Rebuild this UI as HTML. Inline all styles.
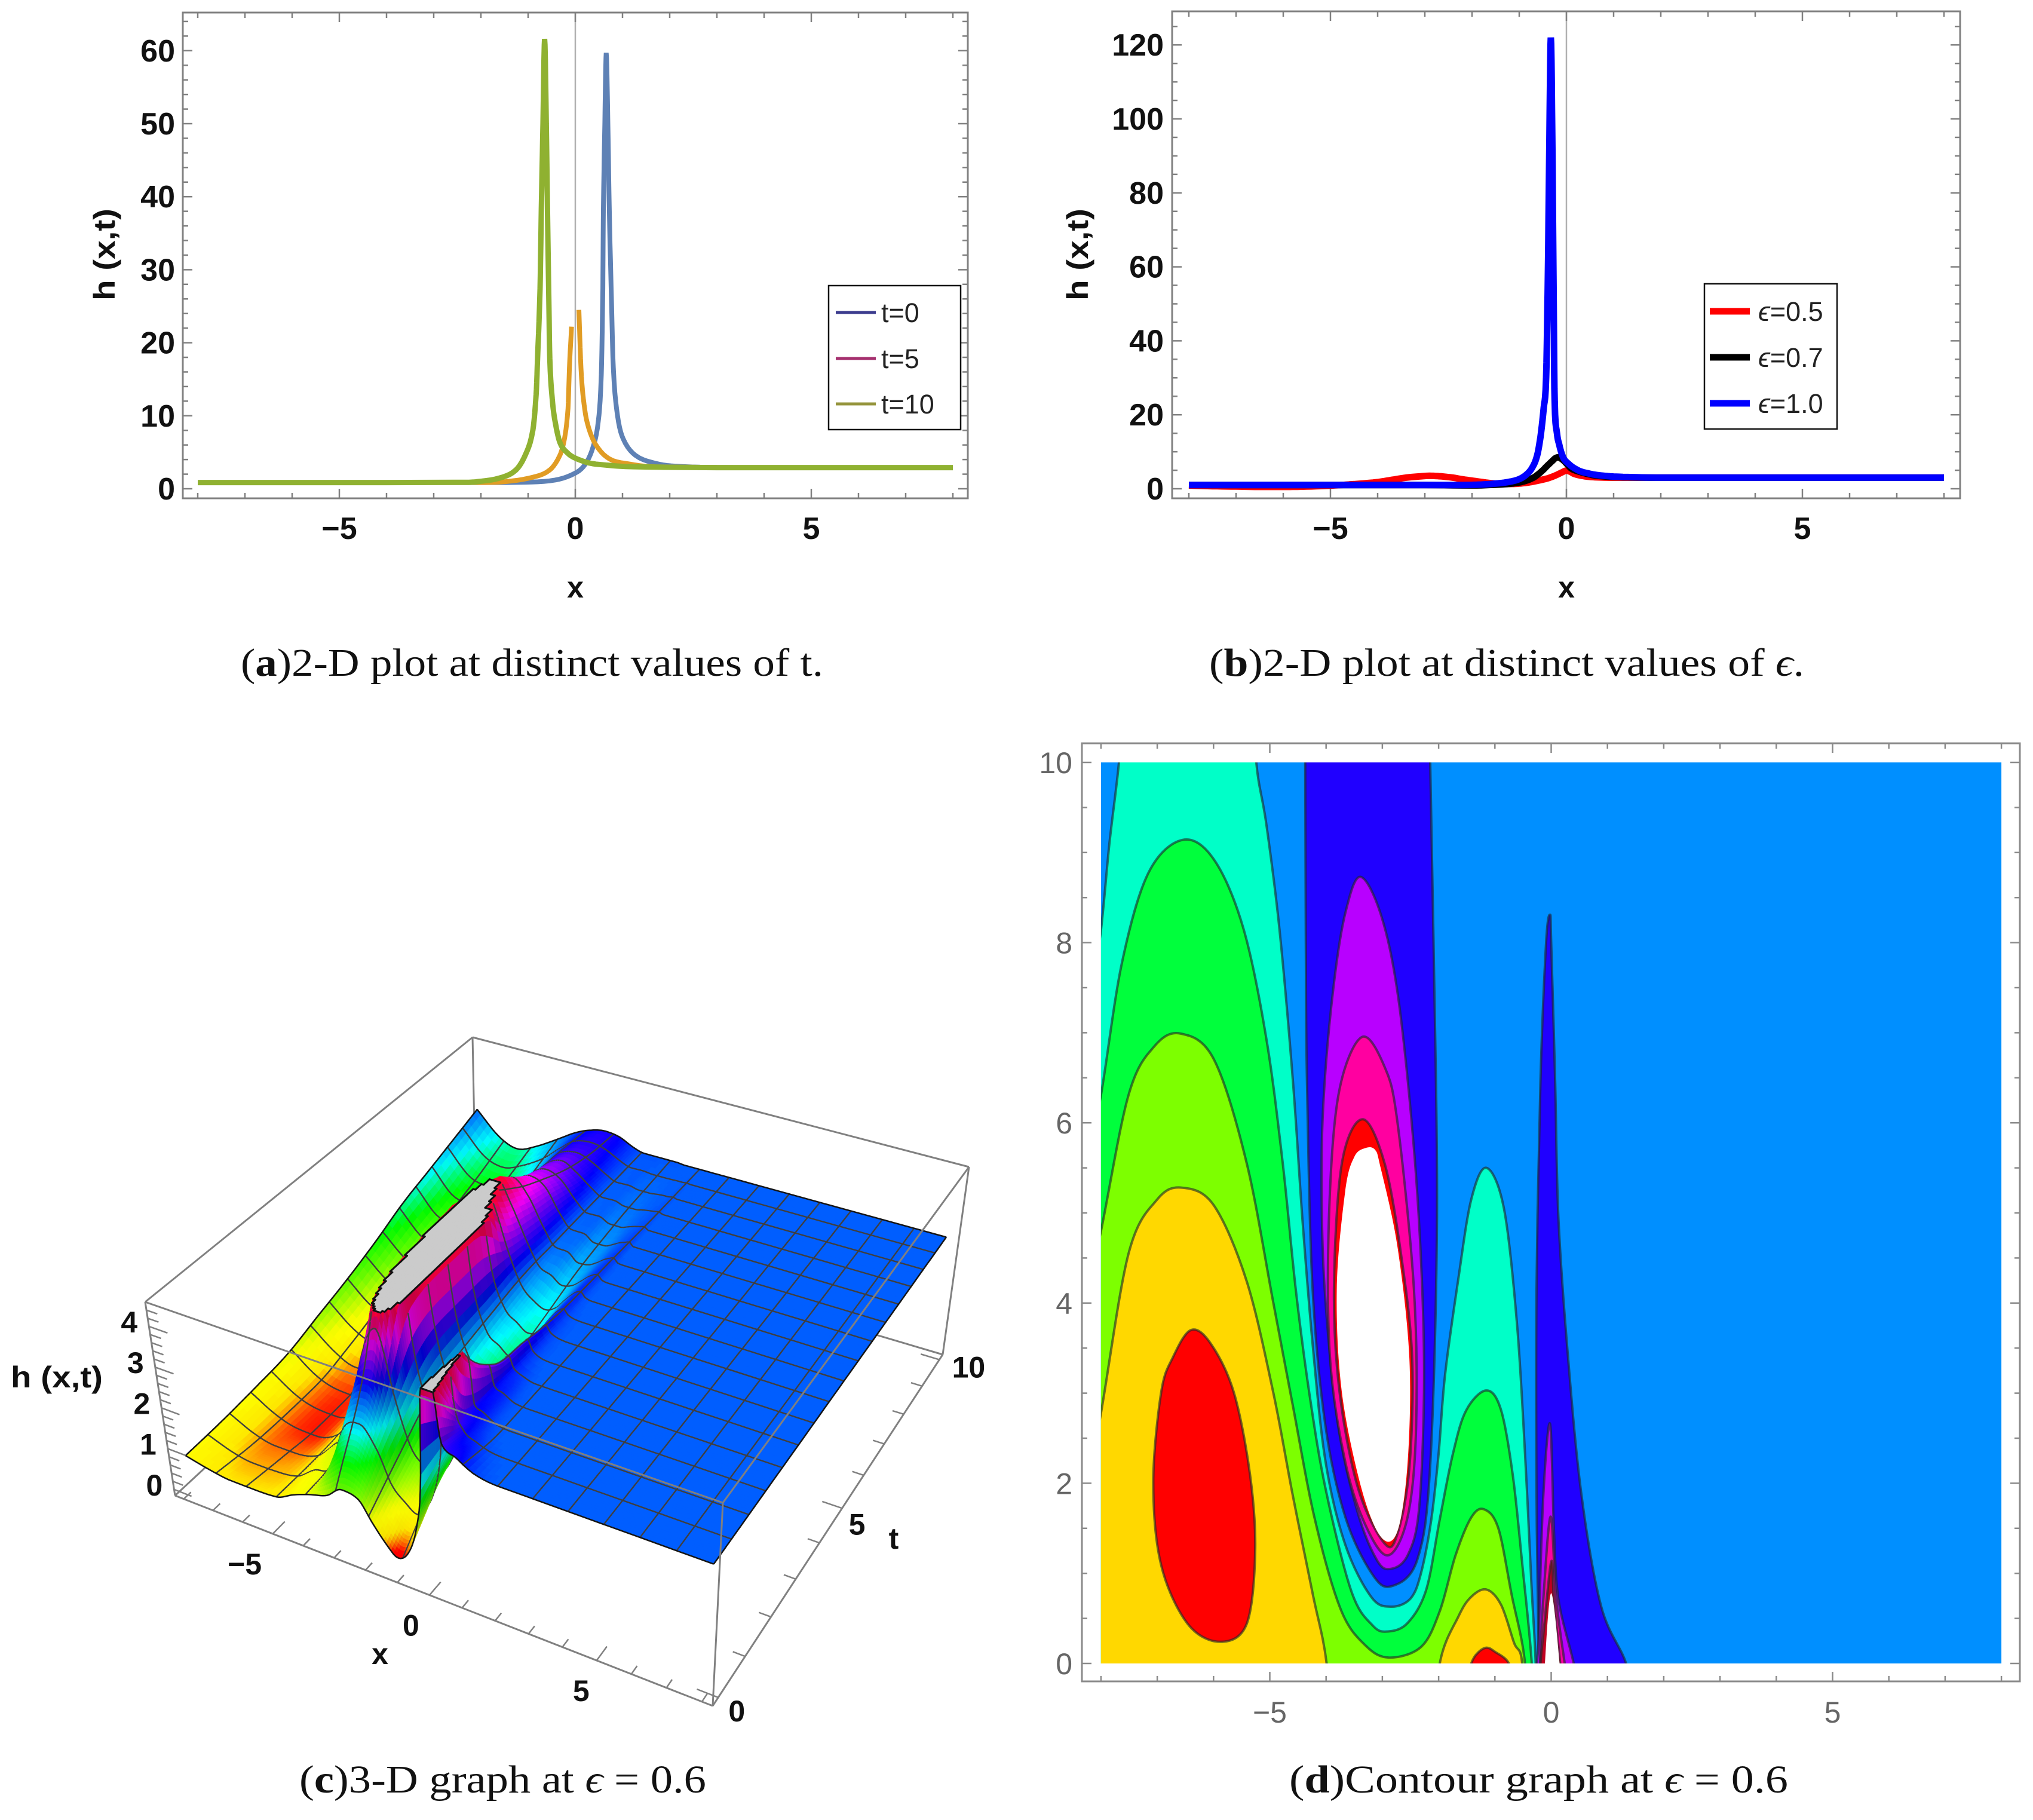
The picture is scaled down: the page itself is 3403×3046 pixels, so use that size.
<!DOCTYPE html>
<html lang="en">
<head>
<meta charset="utf-8">
<title>h(x,t) plots</title>
<style>
html,body{margin:0;padding:0;background:#fff;}
svg{display:block;}
text{font-family:"Liberation Sans","DejaVu Sans",sans-serif;}
.cap{font-family:"Liberation Serif","DejaVu Serif",serif;font-size:66px;fill:#111;}
.bold{font-weight:bold;fill:#111;font-size:50px;}
.leg{font-size:45px;fill:#222;}
</style>
</head>
<body>
<svg id="fig" xmlns="http://www.w3.org/2000/svg" width="3403" height="3046" viewBox="0 0 3403 3046">
<rect width="3403" height="3046" fill="#fff"/>
<defs><clipPath id="plotClipD"><rect id="plotClipRect" x="0" y="0" width="1" height="1"/></clipPath></defs>

<g id="panelA"></g>
<g>
<rect x="1387" y="478" width="221" height="241" fill="#fff" stroke="#111" stroke-width="2.5"/>
<line x1="1399" x2="1466" y1="523" y2="523" stroke="#3c3c8e" stroke-width="5"/>
<text class="leg" x="1475" y="539">t=0</text>
<line x1="1399" x2="1466" y1="600" y2="600" stroke="#a5306e" stroke-width="5"/>
<text class="leg" x="1475" y="616">t=5</text>
<line x1="1399" x2="1466" y1="676" y2="676" stroke="#95943c" stroke-width="5"/>
<text class="leg" x="1475" y="692">t=10</text>
</g>
<text class="bold" x="963" y="1000" text-anchor="middle">x</text>
<text class="bold" transform="translate(192,426) rotate(-90)" text-anchor="middle" textLength="154" lengthAdjust="spacingAndGlyphs">h (x,t)</text>
<text class="cap" x="403" y="1131" textLength="975" lengthAdjust="spacingAndGlyphs">(<tspan font-weight="bold">a</tspan>)2-D plot at distinct values of t.</text>

<g id="panelB"></g>
<g>
<rect x="2853" y="475" width="222" height="243" fill="#fff" stroke="#111" stroke-width="2.5"/>
<line x1="2862" x2="2929" y1="521" y2="521" stroke="#ff0000" stroke-width="11"/>
<text class="leg" x="2943" y="537"><tspan font-style="italic">ϵ</tspan>=0.5</text>
<line x1="2862" x2="2929" y1="598" y2="598" stroke="#000" stroke-width="11"/>
<text class="leg" x="2943" y="614"><tspan font-style="italic">ϵ</tspan>=0.7</text>
<line x1="2862" x2="2929" y1="675" y2="675" stroke="#0000ff" stroke-width="11"/>
<text class="leg" x="2943" y="691"><tspan font-style="italic">ϵ</tspan>=1.0</text>
</g>
<text class="bold" x="2622" y="1000" text-anchor="middle">x</text>
<text class="bold" transform="translate(1821,426) rotate(-90)" text-anchor="middle" textLength="154" lengthAdjust="spacingAndGlyphs">h (x,t)</text>
<text class="cap" x="2024" y="1131" textLength="996" lengthAdjust="spacingAndGlyphs">(<tspan font-weight="bold">b</tspan>)2-D plot at distinct values of <tspan font-style="italic">ϵ</tspan>.</text>

<g id="panelC"></g>
<text class="bold" x="636" y="2785" text-anchor="middle">x</text>
<text class="bold" x="1496" y="2592" text-anchor="middle">t</text>
<text class="bold" x="95" y="2322" text-anchor="middle" textLength="154" lengthAdjust="spacingAndGlyphs">h (x,t)</text>
<text class="cap" x="501" y="3000" textLength="681" lengthAdjust="spacingAndGlyphs">(<tspan font-weight="bold">c</tspan>)3-D graph at <tspan font-style="italic">ϵ</tspan> = 0.6</text>

<g id="panelD"></g>
<text class="cap" x="2158" y="3000" textLength="835" lengthAdjust="spacingAndGlyphs">(<tspan font-weight="bold">d</tspan>)Contour graph at <tspan font-style="italic">ϵ</tspan> = 0.6</text>
</svg>

<script>
// ---------- Panel (a) data ----------
const aXTicks = [-5, 0, 5];
const aYTicks = [0, 10, 20, 30, 40, 50, 60];
const t0X = [-8,-4,-1.9,-1.05,-0.42,0,0.215,0.38,0.49,0.55,0.583,0.595,0.625,0.655,0.69,0.72,0.76,0.806,0.89,1.01,1.27,1.69,2.11,3,4,8];
const t0H = [0.85,0.85,0.85,0.9,1.2,2.15,3.4,5.8,9.4,15.6,27.4,38.3,50,59.7,50,38.3,27.4,16.5,10.2,6.9,4.6,3.5,3.1,2.92,2.9,2.9];
const t5LeftX = [-8,-4,-2.06,-1.47,-0.886,-0.544,-0.333,-0.228,-0.155,-0.125,-0.08];
const t5LeftH = [0.85,0.85,0.85,0.98,1.6,2.56,4.5,6.9,11,16.5,22.2];
const t5RightX = [0.076,0.12,0.17,0.25,0.427,0.72,1.14,1.69,3,8];
const t5RightH = [24.5,16.5,12.4,9.1,6.1,4.1,3.4,3,2.92,2.9];
const t10X = [-8,-4,-2.3,-2.06,-1.6,-1.26,-1.05,-0.9,-0.83,-0.8,-0.747,-0.72,-0.685,-0.65,-0.615,-0.59,-0.565,-0.54,-0.49,-0.44,-0.33,-0.165,0,0.3,0.64,1.06,1.9,3,8];
const t10H = [0.85,0.85,0.88,0.98,1.47,2.56,4.75,8,12.9,17.8,27.4,38.3,50,61.6,50,38.3,27.4,17.8,12.4,9.66,6.4,4.9,4.2,3.52,3.25,3.05,2.95,2.9,2.9];

// ---------- Panel (b) data ----------
const bXTicks = [-5, 0, 5];
const bYTicks = [0, 20, 40, 60, 80, 100, 120];
const e05X = [-8,-7.5,-7,-6.5,-6,-5.5,-5,-4.5,-4,-3.7,-3.4,-3.1,-2.9,-2.7,-2.4,-2.2,-2,-1.75,-1.5,-1.2,-1,-0.8,-0.6,-0.4,-0.25,-0.1,0,0.08,0.15,0.25,0.5,1,2,8];
const e05H = [0.9,0.7,0.6,0.5,0.5,0.6,0.85,1.25,1.8,2.4,3,3.35,3.5,3.4,3,2.55,2.2,1.75,1.4,1.3,1.4,1.7,2.2,2.8,3.5,4.4,4.9,4.6,4.1,3.7,3.2,3,3,3];
const e07X = [-8,-3,-2,-1.5,-1.2,-1,-0.85,-0.7,-0.6,-0.5,-0.4,-0.3,-0.24,-0.18,-0.12,-0.05,0.03,0.1,0.2,0.3,0.45,0.6,0.8,1,1.5,2,8];
const e07H = [1,1,0.9,1.1,1.35,1.7,2.2,3,3.9,5,6.3,7.5,8.2,8.5,8.2,7.5,6.4,5.5,4.9,4.5,4,3.6,3.35,3.2,3.05,3,3];
const e10X = [-8,-3,-2,-1.5,-1.2,-1,-0.85,-0.72,-0.62,-0.55,-0.48,-0.43,-0.39,-0.36,-0.33,-0.3,-0.27,-0.25,-0.2,-0.15,-0.1,-0.05,0.05,0.15,0.3,0.45,0.6,0.8,1,1.5,2,8];
const e10H = [1,1,1.05,1.4,1.9,2.6,3.8,5.8,9,14,22,30,60,95,122,95,50,24,15,11.8,9.5,8,6.7,5.7,4.7,4.2,3.8,3.5,3.3,3.1,3,3];

// ---------- Panel (c) data: surface heights h[x index][t index] ----------
const surfaceX = [-8,-7.2,-6.5,-5.8,-5,-4.4,-3.9,-3.3,-2.8,-2.3,-1.9,-1.5,-1.15,-0.8,-0.5,-0.3,-0.15,0,0.15,0.4,0.8,1.3,2,8];
const surfaceT = [0,1,2,3,4,5,6,7,8,9,10];
const surfaceHeights = [
[0.75,0.78,0.85,0.95,1.2,1.45,1.75,2.1,2.35,2.6,2.85],
[0.62,0.52,0.5,0.52,0.72,0.95,1.25,1.5,1.73,2.0,2.3],
[0.55,0.42,0.34,0.35,0.5,0.82,1.1,1.4,1.65,1.87,2.1],
[0.55,0.43,0.32,0.33,0.52,0.9,1.2,1.55,1.85,2.05,2.3],
[0.58,0.56,0.6,0.78,1.15,1.4,1.65,1.9,2.15,2.4,2.65],
[0.8,0.95,1.25,1.65,2.05,2.4,2.55,2.65,2.75,2.85,2.93],
[0.95,1.2,2.3,3.1,3.85,3.95,3.7,3.5,3.3,3.2,3.1],
[1.1,2.95,5,6,6,5.3,4.45,3.85,3.55,3.3,3.2],
[1.38,3.3,7,7,7,4.6,4,3.7,3.35,3.2,3.15],
[1.3,2.35,3.35,3.55,3.55,3.4,3.25,3.15,3.05,3,2.98],
[0.85,1.45,2.05,2.35,2.55,2.7,2.8,2.85,2.87,2.88,2.9],
[0.45,1.15,1.55,2,2.3,2.42,2.75,2.85,2.88,2.89,2.9],
[0.22,1,1.52,1.88,2.1,2.3,2.55,2.7,2.8,2.85,2.9],
[0.45,1.3,1.65,2,2.2,2.43,2.6,2.7,2.8,2.85,2.9],
[1.15,1.85,2.15,2.45,2.6,2.7,2.75,2.8,2.85,2.87,2.88],
[2.3,2.6,2.75,2.8,2.85,2.87,2.88,2.88,2.88,2.88,2.88],
[5,3.6,3.3,3.1,3,2.98,2.95,2.92,2.9,2.88,2.88],
[8,4.8,3.55,3.3,3.1,3.03,3,2.96,2.92,2.9,2.88],
[5.5,3.3,3.15,3.05,2.97,2.92,2.9,2.88,2.88,2.88,2.88],
[3.4,3.15,3.05,2.92,2.9,2.88,2.88,2.88,2.88,2.88,2.88],
[3.2,2.95,2.9,2.88,2.88,2.88,2.88,2.88,2.88,2.88,2.88],
[2.97,2.88,2.88,2.88,2.88,2.88,2.88,2.88,2.88,2.88,2.88],
[2.88,2.88,2.88,2.88,2.88,2.88,2.88,2.88,2.88,2.88,2.88],
[2.88,2.88,2.88,2.88,2.88,2.88,2.88,2.88,2.88,2.88,2.88]];
const cXTicks = [-5, 0, 5];
const cTTicks = [0, 5, 10];
const cHTicks = [0, 1, 2, 3, 4];
const hueHeights = [0.3,0.36,0.45,0.55,0.9,1.3,1.8,2.3,2.6,2.88,3.2,3.7,4.1,4.6];
const hueDegrees = [0,18,38,55,62,90,120,180,200,218,245,280,310,350];

// ---------- Panel (d) data: contour regions as [x,t] ----------
const dXTicks = [-5, 0, 5];
const dTTicks = [0, 2, 4, 6, 8, 10];
const aquaRegion = [[-9,-1],[-8.6,3],[-8.25,6.9],[-8,8.14],[-7.85,9.1],[-7.68,10],[-7.55,11],[-5.3,11],[-5.24,10],[-5.06,9.31],[-4.83,8.16],[-4.59,6.47],[-4.42,4.93],[-4.24,3.55],[-4.01,2.24],[-3.66,1.32],[-3.2,0.74],[-2.85,0.63],[-2.5,0.72],[-2.31,1.01],[-2.13,1.6],[-2,2.33],[-1.886,3.2],[-1.65,4.27],[-1.42,5.15],[-1.15,5.5],[-0.84,5.05],[-0.61,3.79],[-0.465,2.33],[-0.35,0.87],[-0.276,0],[-0.25,-1]];
const greenRegion = [[-9,-1],[-8.8,3],[-8.3,5.4],[-8,6.31],[-7.63,7.77],[-7.16,8.77],[-6.55,9.14],[-5.99,8.92],[-5.47,8.16],[-5.06,6.93],[-4.77,5.55],[-4.54,4.16],[-4.3,3.01],[-4.01,1.94],[-3.55,0.8],[-3.17,0.42],[-2.9,0.355],[-2.55,0.45],[-2.22,0.82],[-1.98,1.6],[-1.745,2.33],[-1.51,2.81],[-1.15,3.03],[-0.89,2.81],[-0.68,2.08],[-0.515,1.11],[-0.345,0],[-0.3,-1]];
const chartreuseRegion = [[-9,-1],[-8.8,2],[-8.35,3.8],[-8,4.8],[-7.51,6.31],[-7.05,6.85],[-6.58,6.99],[-5.99,6.7],[-5.41,5.55],[-4.94,4.01],[-4.59,2.86],[-4.2,1.6],[-3.74,0.6],[-3.3,0.2],[-2.88,0.065],[-2.31,0.185],[-1.98,0.58],[-1.7,1.2],[-1.42,1.62],[-1.19,1.71],[-0.94,1.5],[-0.705,0.77],[-0.465,0],[-0.42,-1]];
const goldLeftRegion = [[-9,-1],[-8.8,1],[-8.35,1.6],[-8,2.78],[-7.51,4.55],[-7,5.15],[-6.55,5.28],[-5.99,5.08],[-5.41,4.24],[-4.94,3.01],[-4.59,1.86],[-4.24,0.78],[-3.99,0],[-3.9,-1]];
const goldBumpRegion = [[-2.1,-1],[-1.98,0],[-1.65,0.52],[-1.42,0.74],[-1.15,0.82],[-0.89,0.65],[-0.66,0.23],[-0.515,0],[-0.45,-1]];
const redOvalRegion = [[-6.4,3.7],[-6.72,3.4],[-6.93,3.01],[-7.07,2.01],[-6.93,1.09],[-6.46,0.44],[-5.88,0.24],[-5.41,0.44],[-5.26,1.24],[-5.35,2.09],[-5.64,3.01],[-6.05,3.55]];
const redBumpRegion = [[-1.55,-0.3],[-1.42,0],[-1.3,0.12],[-1.15,0.175],[-1,0.13],[-0.75,0],[-0.62,-0.3]];
const blueColumnRegion = [[-4.38,11],[-4.37,10],[-4.36,8],[-4.34,6.47],[-4.24,4.16],[-4.01,2.63],[-3.66,1.63],[-3.2,1.01],[-2.85,0.855],[-2.38,1.15],[-2.15,2.2],[-2.03,4.93],[-2.09,8],[-2.15,10],[-2.16,11]];
const purpleColumnRegion = [[-3.39,8.73],[-3.65,8.35],[-3.85,7.6],[-4.02,6.5],[-4.08,5.5],[-4.03,4.2],[-3.8,2.7],[-3.45,1.7],[-3.1,1.15],[-2.85,1.05],[-2.55,1.2],[-2.35,1.7],[-2.26,3],[-2.3,4.3],[-2.45,5.8],[-2.72,7.4],[-3.02,8.3]];
const magentaColumnRegion = [[-3.37,6.95],[-3.78,6.31],[-3.95,4.93],[-3.93,3.39],[-3.66,2.24],[-3.31,1.55],[-2.9,1.2],[-2.55,1.63],[-2.4,2.63],[-2.44,4.16],[-2.73,6],[-2.96,6.62]];
const redColumnRegion = [[-3.35,6.04],[-3.72,5.55],[-3.86,4.16],[-3.76,3.01],[-3.43,1.94],[-2.96,1.33],[-2.73,1.44],[-2.52,2.17],[-2.47,3.39],[-2.67,4.55],[-2.96,5.55]];
const whiteColumnRegion = [[-3.3,5.72],[-3.5,5.62],[-3.66,5.24],[-3.81,4.16],[-3.72,3.01],[-3.37,1.94],[-3.02,1.4],[-2.73,1.47],[-2.55,2.24],[-2.52,3.39],[-2.73,4.62],[-3.03,5.5],[-3.13,5.7]];
const blueSpikeRegion = [[-0.02,8.31],[-0.09,8],[-0.19,6.47],[-0.26,4.16],[-0.26,1.86],[-0.22,0],[-0.2,-0.5],[1.45,-0.5],[1.33,0],[0.89,0.63],[0.54,1.86],[0.3,3.39],[0.13,4.93],[0.07,6.47],[0,8]];
const purpleSpikeRegion = [[-0.02,2.66],[-0.14,1.86],[-0.22,0.32],[-0.23,-0.4],[0.5,-0.4],[0.4,0],[0.13,0.71],[0.05,1.47]];
const magentaSpikeRegion = [[-0.01,1.63],[-0.14,0.71],[-0.2,0],[-0.2,-0.3],[0.3,-0.3],[0.24,0],[0.09,0.71]];
const redSpikeRegion = [[0,1.13],[-0.14,0.32],[-0.19,0],[-0.19,-0.3],[0.2,-0.3],[0.16,0],[0.05,0.7]];
const whiteSpikeRegion = [[0,0.78],[-0.11,0],[-0.11,-0.3],[0.17,-0.3],[0.15,0]];

// ---------- Axis functions ----------
const xA = v => 963 + 79 * v;
const yA = v => 818 - 12.22 * v;
const xB = v => 2622 + 79 * v;
const yB = v => 818 - 6.19 * v;
const xD = v => 2596.5 + 94.2 * v;
const tD = v => 2784 - 150.8 * v;

const cBox = {E:[293,2503],F:[1193,2855],G:[1578,2267],H:[797,2036],A:[243,2179],D:[1210,2515],C:[1622,1953],B:[791,1736]};
const xMin3=-8.3, xMax3=8.3, tMin3=-0.2, tMax3=10.2, hMin3=-0.15, hMax3=4.6;
function project(x,t,h){
  let u=(x-xMin3)/(xMax3-xMin3), v=(t-tMin3)/(tMax3-tMin3);
  const w=(h-hMin3)/(hMax3-hMin3);
  u=u-0.107*u*(1-u);      // perspective foreshortening along x
  v=v+0.25*v*(1-v);       // perspective foreshortening along t
  const mix=(E,F,G,H)=>[0,1].map(i=>(1-u)*(1-v)*E[i]+u*(1-v)*F[i]+u*v*G[i]+(1-u)*v*H[i]);
  const lo=mix(cBox.E,cBox.F,cBox.G,cBox.H), hi=mix(cBox.A,cBox.D,cBox.C,cBox.B);
  return [lo[0]+(hi[0]-lo[0])*w, lo[1]+(hi[1]-lo[1])*w];
}

// ---------- Helpers ----------
const NS='http://www.w3.org/2000/svg';
function make(tag,parent,name){
  const el=document.createElementNS(NS,tag);
  
  
  parent.appendChild(el);
  return el;
}
function seg(parent,name,x1,y1,x2,y2,stroke,w){
  const el=make('line',parent,name);
  el.setAttribute('x1',x1);el.setAttribute('y1',y1);el.setAttribute('x2',x2);el.setAttribute('y2',y2);
  el.setAttribute('stroke',stroke);el.setAttribute('stroke-width',w);
  return el;
}
function label(parent,name,str,x,y,anchor,size,weight,fill){
  const el=make('text',parent,name);
  el.setAttribute('x',x);el.setAttribute('y',y);el.setAttribute('text-anchor',anchor);
  el.setAttribute('font-size',size);el.setAttribute('font-weight',weight);el.setAttribute('fill',fill);
  el.textContent=str;
  return el;
}
const fmt=v=>v<0?'\u2212'+Math.abs(v):String(v);
function range(a,b,s){const r=[];for(let k=0;a+k*s<=b+1e-9;k++)r.push(a+k*s);return r;}

function monoInterp(xs,ys,q){
  const n=xs.length;
  let i=0; while(i<n-2 && q>xs[i+1]) i++;
  const h=xs[i+1]-xs[i], s=(q-xs[i])/h;
  const d=k=>(ys[k+1]-ys[k])/(xs[k+1]-xs[k]);
  const tan=k=>{
    if(k<=0)return d(0);
    if(k>=n-1)return d(n-2);
    const a=d(k-1),b=d(k);
    if(a*b<=0)return 0;
    const m=(ys[k+1]-ys[k-1])/(xs[k+1]-xs[k-1]);
    const lim=3*Math.min(Math.abs(a),Math.abs(b));
    return Math.abs(m)>lim?Math.sign(m)*lim:m;
  };
  const m0=tan(i),m1=tan(i+1),s2=s*s,s3=s2*s;
  return (2*s3-3*s2+1)*ys[i]+(s3-2*s2+s)*h*m0+(-2*s3+3*s2)*ys[i+1]+(s3-s2)*h*m1;
}

function frame(g,fx,fy,L,R,T,B,xMinor,yMinor,xMajor,yMajor,col,xL,yL,lblSize,lblWeight,lblFill,lblY,lblR){
  const box=make('rect',g,'plot-frame');
  box.setAttribute('x',L);box.setAttribute('y',T);box.setAttribute('width',R-L);box.setAttribute('height',B-T);
  box.setAttribute('fill','none');box.setAttribute('stroke',col);box.setAttribute('stroke-width',3);
  xMinor.forEach(v=>{
    const len=xMajor.includes(v)?16:9;
    seg(g,'x-tick-bottom',fx(v),B,fx(v),B-len,col,2.5);
    seg(g,'x-tick-top',fx(v),T,fx(v),T+len,col,2.5);
  });
  yMinor.forEach(v=>{
    const len=yMajor.includes(v)?16:9;
    seg(g,'y-tick-left',L,fy(v),L+len,fy(v),col,2.5);
    seg(g,'y-tick-right',R,fy(v),R-len,fy(v),col,2.5);
  });
  xL.forEach(v=>label(g,'x-tick-label',fmt(v),fx(v),lblY,'middle',lblSize,lblWeight,lblFill));
  yL.forEach(v=>label(g,'y-tick-label',fmt(v),lblR,fy(v)+18,'end',lblSize,lblWeight,lblFill));
}
function series(g,name,fx,fy,xs,ys,color,w){
  const pts=[];
  for(let i=0;i<xs.length-1;i++){
    const n=(xs[i+1]-xs[i])>1?1:5;
    for(let k=0;k<n;k++){
      const q=xs[i]+(xs[i+1]-xs[i])*k/n;
      pts.push(fx(q).toFixed(1)+','+fy(monoInterp(xs,ys,q)).toFixed(1));
    }
  }
  pts.push(fx(xs[xs.length-1]).toFixed(1)+','+fy(ys[ys.length-1]).toFixed(1));
  const p=make('polyline',g,name);
  p.setAttribute('points',pts.join(' '));
  p.setAttribute('fill','none');p.setAttribute('stroke',color);p.setAttribute('stroke-width',w);
  p.setAttribute('stroke-linejoin','bevel');p.setAttribute('stroke-linecap','butt');
  return p;
}

// ---------- Panel A ----------
(function(){
  const g=document.getElementById('panelA');
  seg(g,'y-axis-zero-line',xA(0),21,xA(0),834,'#b0b0b0',2.5);
  frame(g,xA,yA,306,1620,21,834,range(-8,8,1),range(0,64,2),aXTicks,aYTicks,'#808080',aXTicks,aYTicks,52,'bold','#111',902,293);
  series(g,'line-t0',xA,yA,t0X,t0H,'#5e81b5',8);
  series(g,'line-t5-left',xA,yA,t5LeftX,t5LeftH,'#e19c24',8);
  series(g,'line-t5-right',xA,yA,t5RightX,t5RightH,'#e19c24',8);
  series(g,'line-t10',xA,yA,t10X,t10H,'#8fb131',9);
})();

// ---------- Panel B ----------
(function(){
  const g=document.getElementById('panelB');
  seg(g,'y-axis-zero-line',xB(0),19,xB(0),834,'#b0b0b0',2.5);
  frame(g,xB,yB,1962,3281,19,834,range(-8,8,1),range(0,125,5),bXTicks,bYTicks,'#808080',bXTicks,bYTicks,52,'bold','#111',902,1948);
  series(g,'line-epsilon-0.5',xB,yB,e05X,e05H,'#ff0000',11);
  series(g,'line-epsilon-0.7',xB,yB,e07X,e07H,'#000000',11);
  series(g,'line-epsilon-1.0',xB,yB,e10X,e10H,'#0000ff',11);
})();

// ---------- Panel C ----------
function hueOf(h){
  if(h<=hueHeights[0])return hueDegrees[0];
  for(let k=1;k<hueHeights.length;k++){
    if(h<=hueHeights[k]){const f=(h-hueHeights[k-1])/(hueHeights[k]-hueHeights[k-1]);return hueDegrees[k-1]+f*(hueDegrees[k]-hueDegrees[k-1]);}
  }
  return hueDegrees[hueDegrees.length-1];
}
(function(){
  const g=document.getElementById('panelC');
  const P=cBox, boxCol='#808080', meshCol='#3f3f3f';
  [[P.A,P.B],[P.B,P.C],[P.C,P.G],[P.B,P.H],[P.H,P.G],[P.H,P.E]].forEach(e=>{
    seg(g,'box-edge-back',e[0][0],e[0][1],e[1][0],e[1][1],boxCol,3);
  });
  // sampling grid: includes every mesh line position
  const xs=[];
  for(let a=-8;a<8;a++){
    const n=a>=2?1:(a>=-1&&a<1)?28:(a>=-5&&a<-1)?14:7;
    for(let k=0;k<n;k++)xs.push(a+k/n);
  }
  xs.push(8);
  const ts=[],tIsMesh=[];
  for(let m=0;m<16;m++){
    const n=m*0.625<2.5?12:3;
    for(let k=0;k<n;k++){
      ts.push((m+k/n)*0.625);
      tIsMesh.push(k===0&&m>0);
    }
  }
  ts.push(10);tIsMesh.push(false);
  const xIsMesh=x=>Math.abs(x-Math.round(x))<1e-9&&Math.abs(x)<7.5;
  // height field at every sample
  const field=ts.map(t=>{
    const col=surfaceHeights.map(row=>monoInterp(surfaceT,row,t));
    return xs.map(x=>monoInterp(surfaceX,col,x));
  });
  const surf=make('g',g,'surface');
  const capped=[];
  for(let j=ts.length-2;j>=0;j--){
    capped[j]=[];
    const t0=ts[j],t1=ts[j+1];
    for(let i=0;i<xs.length-1;i++){
      const x0=xs[i],x1=xs[i+1];
      const r=[field[j][i],field[j][i+1],field[j+1][i+1],field[j+1][i]];
      const c=r.map(v=>Math.min(v,hMax3));
      const cap=r.every(v=>v>=hMax3);
      capped[j][i]=cap;
      const pts=[project(x0,t0,c[0]),project(x1,t0,c[1]),project(x1,t1,c[2]),project(x0,t1,c[3])];
      const avg=(c[0]+c[1]+c[2]+c[3])/4;
      let fill;
      if(cap){fill='#cbcbcb';}
      else{
        const gx=((c[1]+c[2]-c[0]-c[3])/2/(x1-x0))*16.6/4.75;
        const gt=((c[2]+c[3]-c[0]-c[1])/2/(t1-t0))*10.4/4.75;
        const f=Math.max(0.78,1/Math.sqrt(1+0.006*(gx*gx+gt*gt)));
        fill='hsl('+hueOf(avg).toFixed(0)+',100%,'+(50*f).toFixed(1)+'%)';
      }
      const q=make('polygon',surf,'surface-cell');
      q.setAttribute('points',pts.map(p=>p[0].toFixed(1)+','+p[1].toFixed(1)).join(' '));
      q.setAttribute('fill',fill);q.setAttribute('stroke',fill);q.setAttribute('stroke-width',0.9);
      // mesh segments are inserted in painter's order so nearer cells hide them
      if(tIsMesh[j+1]&&r[2]<hMax3&&r[3]<hMax3){
        const s=seg(surf,'mesh-line-t',pts[3][0].toFixed(1),pts[3][1].toFixed(1),pts[2][0].toFixed(1),pts[2][1].toFixed(1),meshCol,2.4);
        s.setAttribute('stroke-linecap','round');
      }
      if(xIsMesh(x0)&&r[0]<hMax3&&r[3]<hMax3){
        const s=seg(surf,'mesh-line-x',pts[0][0].toFixed(1),pts[0][1].toFixed(1),pts[3][0].toFixed(1),pts[3][1].toFixed(1),meshCol,2.4);
        s.setAttribute('stroke-linecap','round');
      }
    }
  }
  const capG=make('g',g,'clip-cap-outline');
  for(let j=0;j<ts.length-1;j++){
    for(let i=0;i<xs.length-1;i++){
      if(!capped[j][i])continue;
      const edge=(a,b,c,d)=>{
        const p=project(a,b,hMax3),q=project(c,d,hMax3);
        const s=seg(capG,'cap-edge',p[0].toFixed(1),p[1].toFixed(1),q[0].toFixed(1),q[1].toFixed(1),'#111',3);
        s.setAttribute('stroke-linecap','round');
      };
      if(j===0||!capped[j-1][i])edge(xs[i],ts[j],xs[i+1],ts[j]);
      if(j===ts.length-2||!capped[j+1][i])edge(xs[i],ts[j+1],xs[i+1],ts[j+1]);
      if(i===0||!capped[j][i-1])edge(xs[i],ts[j],xs[i],ts[j+1]);
      if(i===xs.length-2||!capped[j][i+1])edge(xs[i+1],ts[j],xs[i+1],ts[j+1]);
    }
  }
  const edgeLine=(name,pts)=>{
    const o=make('polyline',g,name);
    o.setAttribute('points',pts.map(p=>p[0].toFixed(1)+','+p[1].toFixed(1)).join(' '));
    o.setAttribute('fill','none');o.setAttribute('stroke','#151515');o.setAttribute('stroke-width',2.5);
  };
  edgeLine('surface-front-outline',xs.map((x,i)=>project(x,0,Math.min(field[0][i],hMax3))));
  edgeLine('surface-back-outline',xs.map((x,i)=>project(x,10,Math.min(field[ts.length-1][i],hMax3))));
  edgeLine('surface-left-outline',ts.map((t,j)=>project(-8,t,Math.min(field[j][0],hMax3))));
  edgeLine('surface-right-outline',ts.map((t,j)=>project(8,t,Math.min(field[j][xs.length-1],hMax3))));
  [[P.A,P.D],[P.D,P.C],[P.D,P.F],[P.E,P.F],[P.F,P.G],[P.A,P.E]].forEach(e=>{
    seg(g,'box-edge-front',e[0][0],e[0][1],e[1][0],e[1][1],boxCol,3);
  });
  range(-8,8,1).forEach(v=>{
    const a=project(v,tMin3,hMin3),b=project(v,tMin3+(cXTicks.includes(v)?0.35:0.2),hMin3);
    seg(g,'x-tick',a[0],a[1],b[0],b[1],boxCol,2.5);
  });
  range(0,10,1).forEach(v=>{
    const a=project(xMax3,v,hMin3),b=project(xMax3-(cTTicks.includes(v)?0.6:0.35),v,hMin3);
    seg(g,'t-tick',a[0],a[1],b[0],b[1],boxCol,2.5);
  });
  range(0,4.4,0.2).forEach(v=>{
    const major=cHTicks.some(m=>Math.abs(m-v)<1e-6);
    const a=project(xMin3,tMin3,v),b=project(xMin3+(major?0.6:0.35),tMin3,v);
    seg(g,'h-tick',a[0],a[1],b[0],b[1],boxCol,2.5);
  });
  const xOffset=v=>v<0?-47:(v===0?-31:-26);
  cXTicks.forEach(v=>{const p=project(v,tMin3,hMin3);label(g,'x-tick-label',fmt(v),p[0]+xOffset(v),p[1]+68,'middle',50,'bold','#111');});
  const tOffset=v=>v===10?49:(v===5?25:31);
  cTTicks.forEach(v=>{const p=project(xMax3,v,hMin3);label(g,'t-tick-label',fmt(v),p[0]+tOffset(v),p[1]+(v===10?30:v===5?44:40),'middle',50,'bold','#111');});
  cHTicks.forEach(v=>{const p=project(xMin3,tMin3,v);label(g,'h-tick-label',fmt(v),p[0]-33,p[1]+10,'middle',50,'bold','#111');});
})();

// ---------- Panel D ----------
function smoothPath(points){
  const P=points.map(p=>[xD(p[0]),tD(p[1])]), n=P.length;
  let d='M'+P[0][0].toFixed(1)+' '+P[0][1].toFixed(1);
  for(let i=0;i<n;i++){
    const p0=P[(i-1+n)%n],p1=P[i],p2=P[(i+1)%n],p3=P[(i+2)%n];
    const c1=[p1[0]+(p2[0]-p0[0])/6,p1[1]+(p2[1]-p0[1])/6];
    const c2=[p2[0]-(p3[0]-p1[0])/6,p2[1]-(p3[1]-p1[1])/6];
    d+='C'+c1[0].toFixed(1)+' '+c1[1].toFixed(1)+' '+c2[0].toFixed(1)+' '+c2[1].toFixed(1)+' '+p2[0].toFixed(1)+' '+p2[1].toFixed(1);
  }
  return d+'Z';
}
(function(){
  const g=document.getElementById('panelD');
  const L=xD(-8),R=xD(8),T=tD(10),B=tD(0);
  const cr=document.getElementById('plotClipRect');
  cr.setAttribute('x',L);cr.setAttribute('y',T);cr.setAttribute('width',R-L);cr.setAttribute('height',B-T);
  const bg=make('rect',g,'contour-base-azure');
  bg.setAttribute('x',L);bg.setAttribute('y',T);bg.setAttribute('width',R-L);bg.setAttribute('height',B-T);bg.setAttribute('fill','#008fff');
  const clip=make('g',g,'contour-regions');
  clip.setAttribute('clip-path','url(#plotClipD)');
  const lineCol='rgba(30,40,40,0.62)';
  const layers=[
    ['contour-aqua',aquaRegion,'#00ffc8'],
    ['contour-green',greenRegion,'#00ff3c'],
    ['contour-chartreuse',chartreuseRegion,'#7dff00'],
    ['contour-gold-left',goldLeftRegion,'#ffd800'],
    ['contour-gold-bump',goldBumpRegion,'#ffd800'],
    ['contour-red-oval',redOvalRegion,'#ff0000'],
    ['contour-red-bump',redBumpRegion,'#ff0000'],
    ['contour-blue-column',blueColumnRegion,'#2000ff'],
    ['contour-purple-column',purpleColumnRegion,'#b800ff'],
    ['contour-magenta-column',magentaColumnRegion,'#ff00a0'],
    ['contour-red-column',redColumnRegion,'#ff0000'],
    ['contour-white-column',whiteColumnRegion,'#ffffff'],
    ['contour-blue-spike',blueSpikeRegion,'#2000ff'],
    ['contour-purple-spike',purpleSpikeRegion,'#b800ff'],
    ['contour-magenta-spike',magentaSpikeRegion,'#ff00a0'],
    ['contour-red-spike',redSpikeRegion,'#c00020'],
    ['contour-white-spike',whiteSpikeRegion,'#ffffff']
  ];
  layers.forEach(l=>{
    const p=make('path',clip,l[0]);
    p.setAttribute('d',smoothPath(l[1]));
    p.setAttribute('fill',l[2]);
    if(l[2]==='#ffffff'){p.setAttribute('stroke','none');}
    else{p.setAttribute('stroke',lineCol);p.setAttribute('stroke-width',4);}
  });
  frame(g,xD,tD,1811,3381,1244,2814,range(-8,8,1),range(0,10,0.5),dXTicks,dTTicks,'#8a8a8a',dXTicks,dTTicks,50,'normal','#666',2883,1795);
})();
</script>
</body>
</html>
